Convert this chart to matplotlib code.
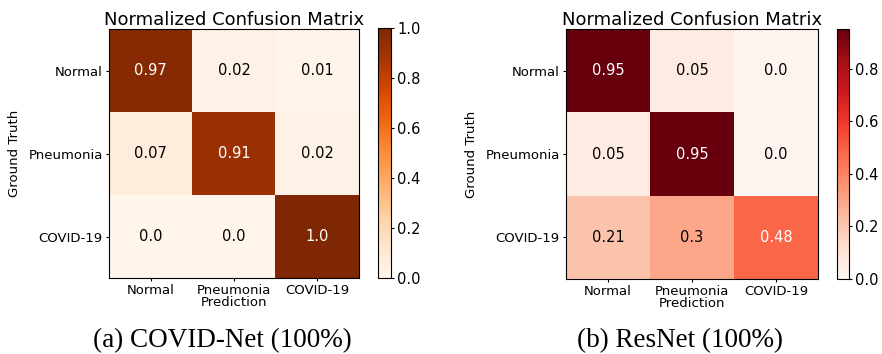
import numpy as np
import matplotlib.pyplot as plt

classes = ['Normal', 'Pneumonia', 'COVID-19']
cm_covidnet = np.array([[0.97, 0.02, 0.01],
                        [0.07, 0.91, 0.02],
                        [0.0, 0.0, 1.0]])
cm_resnet = np.array([[0.95, 0.05, 0.0],
                      [0.05, 0.95, 0.0],
                      [0.21, 0.3, 0.48]])
captions = ['(a) COVID-Net (100%)', '(b) ResNet (100%)']

fig = plt.figure(figsize=(8.82, 3.54), dpi=100)


def plot_cm(cm, cmap, ax_rect, cb_rect):
    ax = fig.add_axes(ax_rect)
    cax = fig.add_axes(cb_rect)
    im = ax.imshow(cm, interpolation='nearest', cmap=cmap, aspect='auto')
    cb = fig.colorbar(im, cax=cax)
    cb.ax.tick_params(labelsize=10.5, length=2.5, pad=2)
    cb.outline.set_linewidth(0.8)
    ax.set_xticks(np.arange(len(classes)))
    ax.set_yticks(np.arange(len(classes)))
    ax.set_xticklabels(classes, fontsize=9.5)
    ax.set_yticklabels(classes, fontsize=9.5)
    ax.tick_params(length=2.5, pad=2)
    ax.set_xlabel('Prediction', fontsize=9.5, labelpad=-1)
    ax.set_ylabel('Ground Truth', fontsize=9.5, labelpad=5)
    ax.set_title('Normalized Confusion Matrix', fontsize=13, pad=3)
    thresh = cm.max() / 2.
    for i in range(cm.shape[0]):
        for j in range(cm.shape[1]):
            ax.text(j, i, str(cm[i, j]), ha='center', va='center', fontsize=10.5,
                    color='white' if cm[i, j] > thresh else 'black')
    return ax


plot_cm(cm_covidnet, 'Oranges', [0.1236, 0.2147, 0.2834, 0.703], [0.4285, 0.2147, 0.0147, 0.706])
plot_cm(cm_resnet, 'Reds', [0.6417, 0.2118, 0.2857, 0.706], [0.949, 0.2118, 0.0136, 0.706])

fig.text(222 / 882, 0.037, captions[0], ha='center', va='center', fontsize=19.5, family='Liberation Serif')
fig.text(680 / 882, 0.037, captions[1], ha='center', va='center', fontsize=19.5, family='Liberation Serif')

fig.savefig('out.png', dpi=100)
